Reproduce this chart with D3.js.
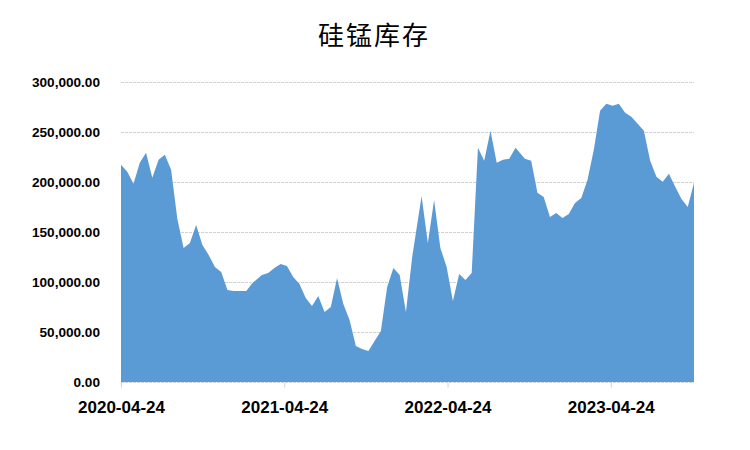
<!DOCTYPE html>
<html>
<head>
<meta charset="utf-8">
<script src="https://cdn.jsdelivr.net/npm/d3@7"></script>
<style>
  html, body { margin: 0; padding: 0; background: #fff; }
  svg { display: block; }
</style>
</head>
<body>
<svg id="chart" width="750" height="450"></svg>
<script>
// ---- data ----
const title = "硅锰库存";
const startDate = "2020-04-24";
// observation dates, as weeks after the start date (biweekly, with holiday gaps)
const weekOffsets = [
  0, 2, 4, 6, 8, 10, 12, 14, 16, 18, 20, 22, 24, 26, 28, 30, 32, 34, 36, 38, 40, 42,
  45, 47, 49, 51, 53, 55, 57, 59, 61, 63, 65, 67, 69, 71, 73, 75, 77, 79,
  83, 85, 87, 89, 91, 93,
  96, 98, 100, 102, 104, 106, 108, 110, 112, 114, 116, 118, 120, 122, 124, 126,
  129, 131, 133, 135, 137, 139, 141, 143, 145, 147, 149, 151, 153, 155, 157, 159,
  161, 163, 165, 167, 169, 171, 173, 175, 177, 179, 181, 183
];
const inventory = [
  217000, 210000, 198000, 219000, 229000, 204000, 222000, 227000, 212000, 163000,
  134000, 139000, 157000, 137000, 127000, 115000, 110000, 92000, 91000, 91000,
  91000, 99000,
  107000, 109000, 114000, 118000, 116000, 105000, 98000, 84000, 76000, 86000,
  70000, 75000, 104000, 78000, 62000, 36000, 33000, 31000,
  51000, 95000, 114000, 107000, 70000, 125000,
  186000, 139000, 182000, 134000, 115000, 81000, 108000, 102000, 109000, 234000,
  221000, 251000, 219000, 222000, 223000, 234000,
  223000, 221000, 189000, 185000, 165000, 169000, 164000, 168000, 179000, 184000,
  202000, 232000, 271000, 278000, 276000, 278000,
  269000, 265000, 258000, 251000, 221000, 205000, 200000, 208000, 195000, 183000,
  175000, 199000
];
const yTicks = [0, 50000, 100000, 150000, 200000, 250000, 300000];
const xTickLabels = ["2020-04-24", "2021-04-24", "2022-04-24", "2023-04-24"];

// ---- build ----
const parse = d3.utcParse("%Y-%m-%d");
const start = parse(startDate);
const data = weekOffsets.map((w, i) => ({
  date: d3.utcDay.offset(start, w * 7),
  value: inventory[i]
}));

const svg = d3.select("#chart");
const plotLeft = 121, plotRight = 694, plotTop = 81.8, plotBottom = 382;
const gridColor = "#d2d2d2";

const x = d3.scaleUtc()
  .domain(d3.extent(data, d => d.date))
  .range([plotLeft, plotRight]);
const y = d3.scaleLinear()
  .domain([0, 300000])
  .range([plotBottom, plotTop]);

// title
svg.append("text")
  .attr("x", 374)
  .attr("y", 45)
  .attr("text-anchor", "middle")
  .attr("font-family", "'Noto Sans CJK SC', sans-serif")
  .attr("font-size", 26)
  .attr("letter-spacing", 2)
  .attr("fill", "#000")
  .text(title);

// gridlines
const grid = svg.append("g");
grid.selectAll("line")
  .data(yTicks.filter(t => t > 0))
  .join("line")
  .attr("x1", plotLeft).attr("x2", plotRight)
  .attr("y1", d => Math.round(y(d)) + 0.5)
  .attr("y2", d => Math.round(y(d)) + 0.5)
  .attr("stroke", gridColor)
  .attr("stroke-width", 1)
  .attr("stroke-dasharray", "3,1");

// area
const area = d3.area()
  .x(d => x(d.date))
  .y0(y(0))
  .y1(d => y(d.value));
svg.append("path")
  .datum(data)
  .attr("d", area)
  .attr("fill", "#5b9bd5");

// y axis labels
const yAxis = d3.axisLeft(y)
  .tickValues(yTicks)
  .tickSize(0)
  .tickPadding(0)
  .tickFormat(d3.format(",.2f"));
const gy = svg.append("g")
  .attr("transform", `translate(${plotLeft - 21},0)`)
  .call(yAxis);
gy.select(".domain").remove();
gy.selectAll("text")
  .attr("font-family", "'Liberation Sans', Arial, sans-serif")
  .attr("font-size", 13.6)
  .attr("font-weight", "bold")
  .attr("fill", "#000");

// x axis
const xAxis = d3.axisBottom(x)
  .tickValues(xTickLabels.map(parse))
  .tickSize(5)
  .tickPadding(13)
  .tickFormat(d3.utcFormat("%Y-%m-%d"));
const gx = svg.append("g")
  .attr("transform", `translate(0,${Math.round(plotBottom) + 0.5})`)
  .call(xAxis);
gx.select(".domain")
  .attr("d", `M${plotLeft},0H${plotRight}`)
  .attr("stroke", gridColor)
  .attr("stroke-dasharray", "3,1");
gx.selectAll(".tick line").attr("stroke", gridColor);
gx.selectAll("text")
  .attr("font-family", "'Liberation Sans', Arial, sans-serif")
  .attr("font-size", 17)
  .attr("font-weight", "bold")
  .attr("fill", "#000");
</script>
</body>
</html>
